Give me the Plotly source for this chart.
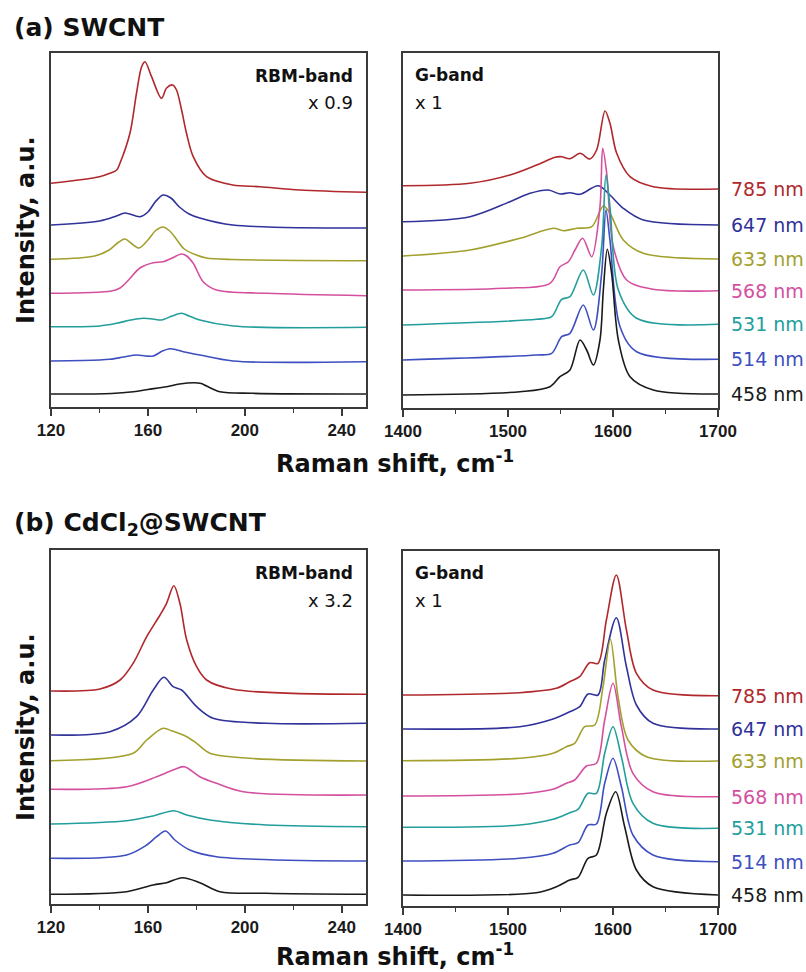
import plotly.graph_objects as go

# ---------------- data (stacked intensities, a.u.) ----------------
wavelengths = [785, 647, 633, 568, 531, 514, 458]
wl_labels = ["785 nm", "647 nm", "633 nm", "568 nm", "531 nm", "514 nm", "458 nm"]
wl_colors = ["#b0282c", "#31329a", "#a3a02e", "#d4509f", "#239e9c", "#3e4fc0", "#1a1a1a"]

# (a) SWCNT, RBM band
a_rbm_x = {
    785: [120, 140, 144.3, 147.1, 148.5, 152.6, 155.3, 157.4, 158.8, 161.5, 165.6, 167.7, 170.2, 171.8, 173.9, 175.9, 178.7, 184.2, 195, 206.2, 222.7, 250],
    647: [120, 140, 147, 150.5, 156.7, 160, 163, 166.2, 169.5, 173, 177, 181.4, 195, 250],
    633: [120, 138, 144, 148, 150.5, 153, 156.3, 160, 163, 166.2, 169, 172, 175, 180, 184.2, 195, 250],
    568: [120, 145, 148.5, 152, 156.7, 162.2, 166.3, 170, 173.9, 176, 178.7, 182.8, 188.3, 209, 250],
    531: [120, 140, 147.1, 153, 158.1, 162, 165.6, 170, 173.9, 177, 181.4, 195.2, 250],
    514: [120, 140, 144.3, 150, 155.3, 159, 162.2, 166, 169.1, 172, 174.6, 181.4, 195.2, 250],
    458: [120, 145, 154, 160, 167.7, 173, 179, 182, 184.2, 189.7, 203, 250],
}
a_rbm_y = {
    785: [223.7, 230.3, 233.7, 237, 244, 274, 314, 340.3, 345.3, 330.3, 308.7, 319, 322, 317, 297, 274, 250.3, 230.3, 222, 220.3, 217, 214.7],
    647: [182, 186, 191, 194, 190.3, 195, 205, 212, 209, 200, 193, 189, 182, 179],
    633: [147.7, 151, 157, 165, 168, 164, 159, 167, 176, 180, 176, 167, 158, 152, 149, 147.5, 146.3],
    568: [113.7, 116, 119, 127, 139, 144.3, 145.3, 149, 153, 151, 143.7, 125.3, 117, 113.7, 111.3],
    531: [80.3, 81, 83.7, 87, 88.7, 88, 87, 91, 93.7, 91, 87, 81, 79.7],
    514: [46, 47, 47.7, 50, 52, 51, 51, 56, 58.3, 57, 55.3, 52, 46, 45.3],
    458: [13, 13.5, 15.3, 17.5, 20.3, 23, 24.3, 23.5, 21, 15.3, 13.7, 13],
}

# (a) SWCNT, G band
a_g_x = {
    785: [1400, 1463.8, 1501.9, 1527.3, 1544.8, 1551.1, 1559, 1568.6, 1578, 1584.4, 1592.4, 1597.1, 1603.5, 1616.2, 1638.4, 1700],
    647: [1400, 1463.8, 1501.9, 1521, 1538.4, 1549.5, 1559, 1568.6, 1586, 1597.1, 1609.8, 1628.9, 1700],
    633: [1400, 1463.8, 1511.4, 1543.2, 1552.7, 1565.4, 1579.7, 1590.8, 1597.1, 1609.8, 1628.9, 1700],
    568: [1400, 1495.5, 1540, 1549.5, 1557.5, 1563.8, 1571.1, 1579.7, 1587.6, 1590.2, 1594, 1600.3, 1613, 1638.4, 1700],
    531: [1400, 1527.3, 1541.6, 1551.1, 1559, 1571.7, 1581.3, 1589.2, 1593.3, 1597.1, 1605.1, 1622.5, 1700],
    514: [1400, 1527.3, 1541.6, 1551.1, 1559, 1571.7, 1581.3, 1589.2, 1593.3, 1597.1, 1606.7, 1622.5, 1700],
    458: [1400, 1511.4, 1540, 1549.5, 1559, 1568.6, 1574.9, 1581.3, 1587.6, 1590.8, 1594.6, 1598.7, 1605.1, 1616.2, 1638.4, 1700],
}
a_g_y = {
    785: [222.3, 224.7, 233, 243, 250.7, 251.3, 249.3, 254.7, 249, 258, 297, 284.7, 254.7, 231.3, 221.3, 219],
    647: [186.3, 191.3, 206.3, 214.7, 218, 214, 215.3, 213.7, 222.3, 213, 199.7, 188, 183],
    633: [152, 158, 169.7, 179.7, 177.3, 179.7, 181.3, 202, 194.7, 168, 154.7, 149],
    568: [118, 119.7, 124.7, 141.3, 146.3, 158, 169.7, 151.3, 201.3, 259.7, 234.7, 161.3, 128, 118.7, 117.3],
    531: [83, 88.7, 91.3, 108.7, 111.3, 138, 113, 161.3, 233, 201.3, 118, 89.7, 83.7],
    514: [48, 53, 54.7, 71.3, 74.7, 103, 78, 134.7, 198, 168, 81.3, 56.3, 48.7],
    458: [13, 16.3, 21.3, 31.3, 38, 68, 58, 43, 68, 118, 158.7, 134.7, 68, 31.3, 18, 14],
}

# (b) CdCl2@SWCNT, RBM band
b_rbm_x = {
    785: [120, 140.2, 148.5, 153.9, 159.5, 165, 167.7, 170.7, 173.2, 176, 180.1, 184.2, 195.2, 250],
    647: [120, 144.3, 155.3, 162.2, 166.6, 170.4, 173.9, 180.1, 186.9, 208.9, 250],
    633: [120, 153.9, 159.5, 166.3, 170, 176, 180.1, 185.6, 202, 250],
    568: [120, 151.2, 163.6, 170.4, 175, 181.4, 188.3, 199.3, 250],
    531: [120, 151.2, 162.2, 170.7, 176, 185.6, 208.9, 250],
    514: [120, 151.2, 159.5, 163.6, 167.3, 171.1, 177.3, 188.3, 250],
    458: [120, 151.2, 162.2, 167.7, 174.3, 181.4, 189.7, 208.9, 250],
}
b_rbm_y = {
    785: [213, 215, 224, 240.7, 267.3, 289, 300.7, 318.3, 300.7, 264, 237.3, 224, 214.7, 209.7],
    647: [169, 172.3, 187.3, 214, 226.7, 217.3, 214, 197.3, 185.7, 180.7, 180.7],
    633: [143.3, 150.7, 164, 175.7, 173, 167.3, 160.7, 150.7, 145.7, 143],
    568: [114.7, 117.3, 127.3, 134, 137.3, 127.3, 120.7, 112.3, 109],
    531: [80, 83.3, 88, 93.3, 89, 84, 79, 77.3],
    514: [45.7, 49, 59, 67.3, 73, 64, 54, 47.3, 43],
    458: [9.7, 12.3, 19, 21.3, 26.3, 21.3, 12.3, 10.7, 9.7],
}

# (b) CdCl2@SWCNT, G band
b_g_x = {
    785: [1400, 1511.1, 1546.1, 1558.8, 1568.3, 1577.8, 1585.7, 1593.7, 1603.2, 1612.8, 1622.3, 1638.1, 1700],
    647: [1400, 1511.1, 1542.9, 1558.8, 1568.3, 1576.2, 1585.7, 1592.1, 1603.2, 1612.8, 1622.3, 1638.1, 1700],
    633: [1400, 1511.1, 1542.9, 1555.6, 1563.5, 1573, 1582.6, 1590.5, 1597.5, 1604.8, 1614.3, 1631.8, 1700],
    568: [1400, 1511.1, 1542.9, 1555.6, 1563.5, 1574.7, 1584.2, 1592.1, 1600, 1608, 1619, 1638.1, 1700],
    531: [1400, 1511.1, 1542.9, 1558.8, 1566.7, 1576.2, 1584.2, 1592.1, 1600, 1608, 1619, 1638.1, 1700],
    514: [1400, 1511.1, 1542.9, 1558.8, 1566.7, 1576.2, 1584.2, 1592.1, 1600, 1608, 1619, 1638.1, 1700],
    458: [1400, 1527, 1546.1, 1558.8, 1566.7, 1576.2, 1584.2, 1593.7, 1602.6, 1611.1, 1622.3, 1638.1, 1700],
}
b_g_y = {
    785: [211, 213.3, 217.7, 224.3, 229.3, 243.3, 242.7, 286, 331, 276, 232.7, 216, 210.3],
    647: [177, 179.3, 187, 194.3, 199.3, 212, 211, 246, 288.3, 239.3, 201, 182.7, 177],
    633: [145.3, 147.7, 152.7, 159.3, 162.7, 179.3, 181, 219.3, 266.7, 209.3, 166, 149.3, 145],
    568: [110, 112, 116.7, 122.7, 126, 140, 142.7, 186, 222.7, 179.3, 132.7, 114.3, 109.3],
    531: [78.7, 81, 86.7, 93.3, 96.7, 112.7, 112.7, 152.7, 179.3, 149.3, 102.7, 82.7, 77.7],
    514: [45, 47.7, 52.7, 61, 63.3, 81, 82, 122.7, 147.7, 119.3, 71, 51, 44.3],
    458: [11, 13.3, 19.3, 26, 28.7, 47.7, 51, 92.7, 114.3, 79.3, 36, 19.3, 11],
}

rbm_ticks = [120, 160, 200, 240]
g_ticks = [1400, 1500, 1600, 1700]

# ---------------- figure ----------------
W, H = 806, 972
fig = go.Figure()

panels = [
    (a_rbm_x, a_rbm_y, "", (51, 366, 53, 407), [120, 250], rbm_ticks, 20, [0, 354]),
    (a_g_x, a_g_y, "2", (403, 718, 53, 408), [1400, 1700], g_ticks, 50, [0, 355]),
    (b_rbm_x, b_rbm_y, "3", (51, 366, 550, 904), [120, 250], rbm_ticks, 20, [0, 354]),
    (b_g_x, b_g_y, "4", (403, 718, 551, 906), [1400, 1700], g_ticks, 50, [0, 355]),
]

axis_line = "#3a3a3a"
layout = dict(
    width=W, height=H, margin=dict(l=0, r=0, t=0, b=0, pad=0, autoexpand=False),
    paper_bgcolor="white", plot_bgcolor="white", showlegend=False,
)
for xd, yd, s, (x0, x1, yt, yb), xr, ticks, mdt, yr in panels:
    for wl, col in zip(wavelengths, wl_colors):
        fig.add_trace(go.Scatter(
            x=xd[wl], y=yd[wl], mode="lines",
            line=dict(color=col, width=1.6, shape="spline", smoothing=0.9),
            xaxis="x" + s, yaxis="y" + s, hoverinfo="skip",
        ))
    layout["xaxis" + s] = dict(
        domain=[x0 / W, x1 / W], range=xr, anchor="y" + s, automargin=False,
        showline=True, linecolor=axis_line, linewidth=1.5, mirror=True,
        ticks="outside", ticklen=7, tickwidth=1.5, tickcolor=axis_line,
        tickvals=ticks, showgrid=False, zeroline=False,
        tickfont=dict(family="Liberation Sans", size=17, color="#1a1a1a", weight="bold"),
        minor=dict(ticks="outside", ticklen=4, tickwidth=1.2, tickcolor=axis_line,
                   dtick=mdt, tick0=xr[0], showgrid=False),
    )
    layout["yaxis" + s] = dict(
        domain=[(H - yb) / H, (H - yt) / H], range=yr, anchor="x" + s, automargin=False,
        showline=True, linecolor=axis_line, linewidth=1.5, mirror=True,
        ticks="", showticklabels=False, showgrid=False, zeroline=False,
    )

fig.update_layout(**layout)

bold = dict(family="DejaVu Sans", color="#111111", weight="bold")
reg = dict(family="DejaVu Sans", color="#111111")
ann = []

def paper_y(py):
    return (H - py) / H

# panel titles
ann.append(dict(text="(a) SWCNT", x=12 / W, y=paper_y(28), xref="paper", yref="paper",
                xanchor="left", yanchor="middle", showarrow=False, font=dict(size=25, **bold)))
ann.append(dict(text="(b) CdCl<sub>2</sub>@SWCNT", x=12 / W, y=paper_y(524), xref="paper", yref="paper",
                xanchor="left", yanchor="middle", showarrow=False, font=dict(size=25, **bold)))

# band labels
for s, ytop_px, scale in [("", 53, "x 0.9"), ("3", 550, "x 3.2")]:
    ann.append(dict(text="RBM-band", x=355 / W, y=paper_y(ytop_px + 23), xref="paper", yref="paper",
                    xanchor="right", yanchor="middle", showarrow=False, font=dict(size=17, **bold)))
    ann.append(dict(text=scale, x=355 / W, y=paper_y(ytop_px + 50), xref="paper", yref="paper",
                    xanchor="right", yanchor="middle", showarrow=False, font=dict(size=18, **reg)))
for s, ytop_px in [("2", 53), ("4", 551)]:
    ann.append(dict(text="G-band", x=413 / W, y=paper_y(ytop_px + 22), xref="paper", yref="paper",
                    xanchor="left", yanchor="middle", showarrow=False, font=dict(size=17, **bold)))
    ann.append(dict(text="x 1", x=413 / W, y=paper_y(ytop_px + 49), xref="paper", yref="paper",
                    xanchor="left", yanchor="middle", showarrow=False, font=dict(size=18, **reg)))

# wavelength labels at the right end of each G-band trace
for s, yd in [("2", a_g_y), ("4", b_g_y)]:
    for wl, lab, col in zip(wavelengths, wl_labels, wl_colors):
        ann.append(dict(text=lab, x=1, xref="x" + s + " domain", y=yd[wl][-1], yref="y" + s,
                        xanchor="left", yanchor="middle", xshift=11, showarrow=False,
                        font=dict(family="DejaVu Sans", size=19, color=col)))

# axis titles
for py in [462, 955]:
    ann.append(dict(text="Raman shift, cm<sup>-1</sup>", x=395 / W, y=paper_y(py), xref="paper", yref="paper",
                    xanchor="center", yanchor="middle", showarrow=False, font=dict(size=24, **bold)))
for py in [230, 727]:
    ann.append(dict(text="Intensity, a.u.", x=26 / W, y=paper_y(py), xref="paper", yref="paper",
                    xanchor="center", yanchor="middle", textangle=-90, showarrow=False,
                    font=dict(size=24, **bold)))

fig.update_layout(annotations=ann)
fig.write_html("out.html")
